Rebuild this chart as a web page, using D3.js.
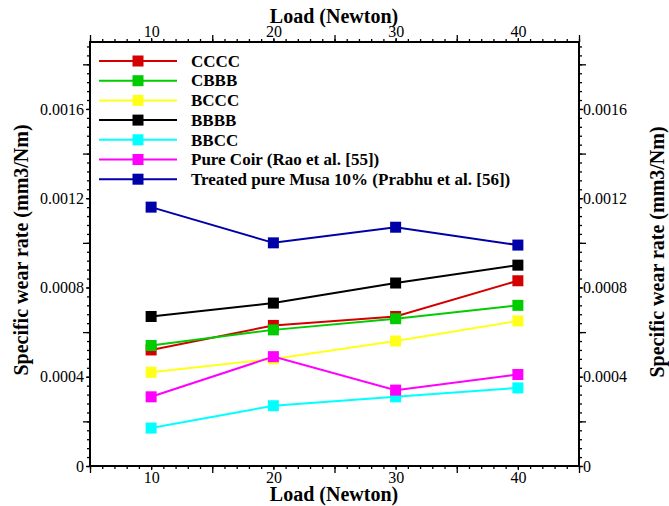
<!DOCTYPE html>
<html>
<head>
<meta charset="utf-8">
<script src="https://cdn.jsdelivr.net/npm/d3@7"></script>
<style>
  body { margin: 0; background: #fff; }
  svg text { font-family: "Liberation Serif", "Times New Roman", serif; fill: #000; }
</style>
</head>
<body>
<svg id="chart" width="669" height="506"></svg>
<script>
const loads = [10, 20, 30, 40];
const seriesNames = ["CCCC", "CBBB", "BCCC", "BBBB", "BBCC",
    "Pure Coir (Rao et al. [55])", "Treated pure Musa 10% (Prabhu et al. [56])"];
const seriesColors = ["#d40000", "#00cc00", "#ffff1a", "#000000", "#00ffff", "#ff00ff", "#0000a8"];
const cccc = [0.00052, 0.00063, 0.00067, 0.00083];
const cbbb = [0.00054, 0.00061, 0.00066, 0.00072];
const bccc = [0.00042, 0.00048, 0.00056, 0.00065];
const bbbb = [0.00067, 0.00073, 0.00082, 0.00090];
const bbcc = [0.00017, 0.00027, 0.00031, 0.00035];
const pureCoir = [0.00031, 0.00049, 0.00034, 0.00041];
const treatedMusa = [0.00116, 0.00100, 0.00107, 0.00099];
const yTickLabels = [0, 0.0004, 0.0008, 0.0012, 0.0016];
const xTickLabels = [10, 20, 30, 40];

const seriesValues = [cccc, cbbb, bccc, bbbb, bbcc, pureCoir, treatedMusa];
const series = seriesNames.map((name, i) => ({
    name,
    color: seriesColors[i],
    points: loads.map((x, j) => ({ x, y: seriesValues[i][j] }))
}));

const width = 669, height = 506;
const margin = { top: 42, right: 90, bottom: 40, left: 90 };
const svg = d3.select("#chart");

const x = d3.scaleLinear().domain([5, 45]).range([margin.left, width - margin.right]);
const y = d3.scaleLinear().domain([0, 0.0019]).range([height - margin.bottom, margin.top]);

const fmt = d => d === 0 ? "0" : d3.format(".4f")(d);
const xMinor = d3.range(5, 46, 1);
const xMajor = [5, 15, 25, 35, 45];
const yMinor = d3.range(0, 0.00191, 0.00004);
const yMajor = [0.0002, 0.0006, 0.001, 0.0014, 0.0018];

function tickLayer(axisFn, scale, pos, minor, major, labels, padding, f) {
    const g = svg.append("g").attr("transform", pos);
    g.append("g").call(axisFn(scale).tickValues(minor).tickSize(3).tickFormat(""));
    g.append("g").call(axisFn(scale).tickValues(major).tickSize(7).tickFormat(""));
    g.append("g").call(axisFn(scale).tickValues(labels).tickSize(4).tickPadding(padding).tickFormat(f));
    g.selectAll(".domain").remove();
    g.selectAll(".tick line").attr("stroke", "#000").attr("stroke-width", 1.3);
    g.selectAll("text").style("font-size", "16px");
    return g;
}

tickLayer(d3.axisBottom, x, `translate(0,${y(0)})`, xMinor, xMajor, xTickLabels, 2, d3.format("d"));
tickLayer(d3.axisTop, x, `translate(0,${margin.top})`, xMinor, xMajor, xTickLabels, 1, d3.format("d"));
tickLayer(d3.axisLeft, y, `translate(${margin.left},0)`, yMinor, yMajor, yTickLabels, 2, fmt);
tickLayer(d3.axisRight, y, `translate(${width - margin.right},0)`, yMinor, yMajor, yTickLabels, 0, fmt);

// frame
svg.append("rect")
    .attr("x", margin.left).attr("y", margin.top)
    .attr("width", width - margin.left - margin.right)
    .attr("height", height - margin.top - margin.bottom)
    .attr("fill", "none").attr("stroke", "#000").attr("stroke-width", 2);

// lines + markers
const line = d3.line().x(d => x(d.x)).y(d => y(d.y));
const ms = 11;
const sg = svg.selectAll("g.series").data(series).join("g").attr("class", "series");
sg.append("path")
    .attr("d", d => line(d.points))
    .attr("fill", "none")
    .attr("stroke", d => d.color)
    .attr("stroke-width", 2);
sg.selectAll("rect")
    .data(d => d.points.map(p => ({ ...p, color: d.color })))
    .join("rect")
    .attr("x", d => x(d.x) - ms / 2)
    .attr("y", d => y(d.y) - ms / 2)
    .attr("width", ms).attr("height", ms)
    .attr("fill", d => d.color);

// legend
const lg = svg.append("g");
const row = lg.selectAll("g").data(series).join("g")
    .attr("transform", (d, i) => `translate(0,${61 + i * 19.7})`);
row.append("line")
    .attr("x1", 99).attr("x2", 177)
    .attr("stroke", d => d.color).attr("stroke-width", 2);
row.append("rect")
    .attr("x", 138 - ms / 2).attr("y", -ms / 2)
    .attr("width", ms).attr("height", ms)
    .attr("fill", d => d.color);
row.append("text")
    .attr("x", 191).attr("y", 5.7)
    .style("font-size", "17px").style("font-weight", "bold")
    .text(d => d.name);

// titles
const titleStyle = t => t.style("font-size", "20px").style("font-weight", "bold");
svg.append("text").attr("x", 334).attr("y", 23).attr("text-anchor", "middle")
    .call(titleStyle).text("Load (Newton)");
svg.append("text").attr("x", 334).attr("y", 501).attr("text-anchor", "middle")
    .call(titleStyle).text("Load (Newton)");
svg.append("text").attr("transform", "translate(28,250) rotate(-90)").attr("text-anchor", "middle")
    .call(titleStyle).text("Specific wear rate (mm3/Nm)");
svg.append("text").attr("transform", "translate(664,252) rotate(-90)").attr("text-anchor", "middle")
    .call(titleStyle).text("Specific wear rate (mm3/Nm)");
</script>
</body>
</html>
